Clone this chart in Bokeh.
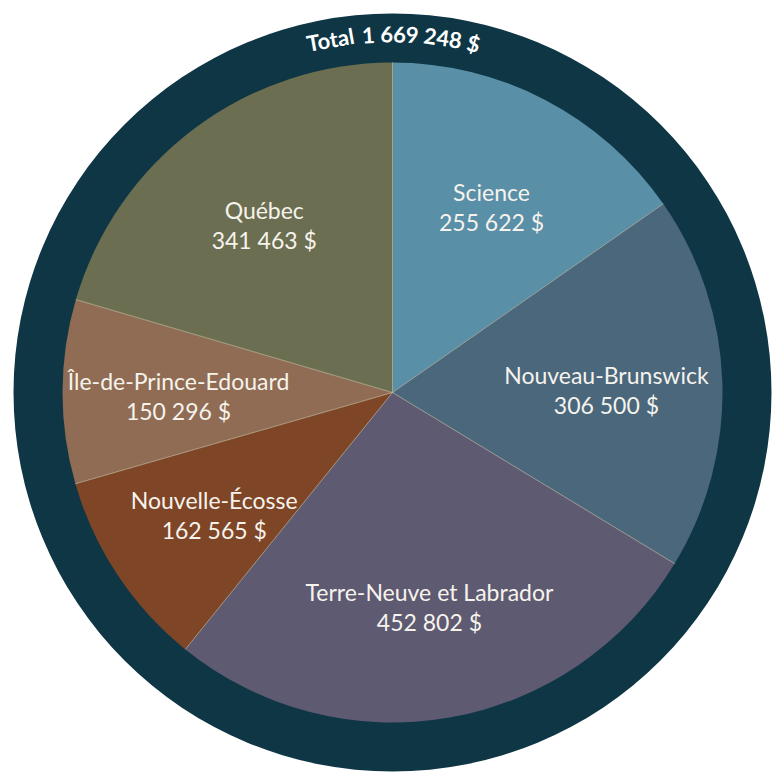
import math
from bokeh.plotting import figure
from bokeh.models import Range1d, ColumnDataSource
from bokeh.core.properties import value
from bokeh.embed import file_html
from bokeh.resources import INLINE

# ---- data ----
categories = ["Science", "Nouveau-Brunswick", "Terre-Neuve et Labrador",
              "Nouvelle-Écosse", "Île-de-Prince-Edouard", "Québec"]
amounts = [255622, 306500, 452802, 162565, 150296, 341463]
colors = ["#5a8fa8", "#4a677c", "#5e5a72", "#7f4527", "#8f6c53", "#6b6e50"]
total_prefix = "Total"

def fmt(v):
    return f"{v:,}".replace(",", " ") + " $"

amount_labels = [fmt(v) for v in amounts]
total = sum(amounts)
total_label = f"{total_prefix} {fmt(total)}"

# ---- layout ----
W, H = 774, 772
cx, cy = 392, H - 392
R = 330
R_OUT = 379
R_LAB = 214
RING = "#0f3645"
FONT = "Lato"

p = figure(width=W, height=H, output_backend="svg", toolbar_location=None,
           x_range=Range1d(0, W), y_range=Range1d(0, H), min_border=0)
p.axis.visible = False
p.grid.visible = False
p.outline_line_color = None
p.background_fill_color = "white"
p.border_fill_color = "white"

# outer ring
p.circle(x=[cx], y=[cy], radius=R_OUT, fill_color=RING, line_color=None)

# wedges
cum = [0]
for v in amounts:
    cum.append(cum[-1] + v)
starts = [math.pi / 2 - 2 * math.pi * c / total for c in cum[:-1]]
ends = [math.pi / 2 - 2 * math.pi * c / total for c in cum[1:]]
src = ColumnDataSource(dict(start=starts, end=ends, color=colors))
p.wedge(x=cx, y=cy, radius=R, start_angle="start", end_angle="end",
        direction="clock", fill_color="color", line_color=None, source=src)

# thin radial separators
sep_x = [cx + R * math.cos(a) for a in starts]
sep_y = [cy + R * math.sin(a) for a in starts]
p.segment(x0=[cx] * len(sep_x), y0=[cy] * len(sep_y), x1=sep_x, y1=sep_y,
          line_color="#d9cfae", line_width=0.8, line_alpha=0.75)

# labels
mids = [(s + e) / 2 for s, e in zip(starts, ends)]
lx = [cx + R_LAB * math.cos(a) for a in mids]
ly = [cy + R_LAB * math.sin(a) - 4 for a in mids]
p.text(x=lx, y=[y + 15 for y in ly], text=categories, text_align="center",
       text_baseline="middle", text_font=value(FONT), text_font_size="23px",
       text_color="#f6f3ec")
p.text(x=lx, y=[y - 15 for y in ly], text=amount_labels, text_align="center",
       text_baseline="middle", text_font=value(FONT), text_font_size="23px",
       text_color="#f6f3ec")

# curved total label, word by word along the ring
fs = 22
cw = {"T": 0.60, "o": 0.57, "t": 0.37, "a": 0.52, "l": 0.26, "$": 0.56, " ": 0.30}
def wwidth(s):
    return sum(cw.get(ch, 0.56) for ch in s) * fs

words = total_label.split(" ")
widths = [wwidth(w) for w in words]
gap = 0.30 * fs
full = sum(widths) + gap * (len(words) - 1)
r_t = (R + R_OUT) / 2 + 4
pos = -full / 2
tx, ty, ta = [], [], []
for w, wd in zip(words, widths):
    c = pos + wd / 2
    th = c / r_t
    tx.append(cx + r_t * math.sin(th))
    ty.append(cy + r_t * math.cos(th))
    ta.append(-th)
    pos += wd + gap
p.text(x=tx, y=ty, text=words, angle=ta, text_align="center",
       text_baseline="middle", text_font=value(FONT), text_font_size=f"{fs}px",
       text_font_style="bold", text_color="#ffffff")

open("out.html", "w").write(file_html(p, INLINE))
